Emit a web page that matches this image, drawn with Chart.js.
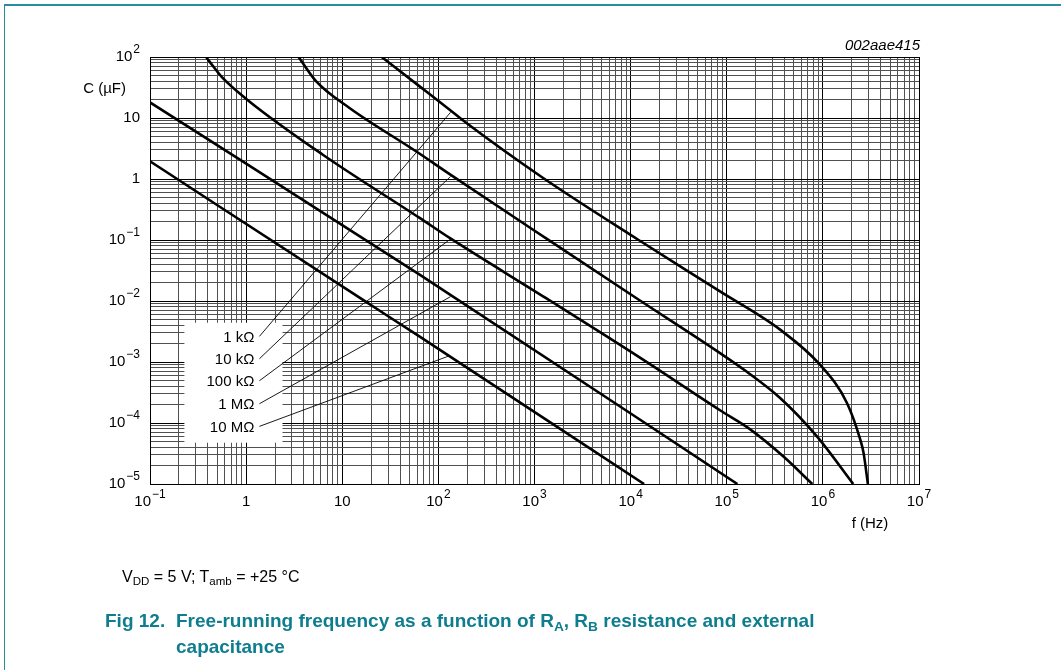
<!DOCTYPE html>
<html>
<head>
<meta charset="utf-8">
<script src="https://cdn.jsdelivr.net/npm/chart.js@4.4.1/dist/chart.umd.min.js"></script>
<style>
    body { margin: 0; background: #fff; font-family: "Liberation Sans", Arial, sans-serif; }
    #wrap { position: relative; width: 1061px; height: 670px; overflow: hidden; }
    #frame { position: absolute; left: 4px; top: 4px; right: -2px; bottom: -2px;
             border-top: 2px solid #2a8d9d; border-left: 1px solid #2a8d9d; }
    canvas { position: absolute; left: 0; top: 0; }
    .cond { position: absolute; left: 122px; top: 568px; font-size: 16px; color: #000; white-space: nowrap; }
    .fig { position: absolute; font-weight: bold; font-size: 19px; color: #0e7e8e; white-space: nowrap; }
    sub { font-size: 0.72em; vertical-align: -0.3em; line-height: 0; }
</style>
</head>
<body>
<div id="wrap">
    <div id="frame"></div>
    <canvas id="chart" width="1061" height="670"></canvas>
    <div class="cond">V<sub>DD</sub> = 5 V; T<sub>amb</sub> = +25 °C</div>
    <div class="fig" style="left:105px; top:610px;">Fig 12.</div>
    <div class="fig" style="left:176px; top:610px;">Free-running frequency as a function of R<sub>A</sub>, R<sub>B</sub> resistance and external</div>
    <div class="fig" style="left:176px; top:636px;">capacitance</div>
</div>
<script>
// ================================
// f (Hz) vs C (µF) for several R values
// ================================

const curveNames = ['1 kΩ', '10 kΩ', '100 kΩ', '1 MΩ', '10 MΩ'];

// [f (Hz), C (µF)]
const curve1k = [
    [25.7, 100], [63.8, 33.0], [131, 13.7], [196, 8.28], [1230, 1.04],
    [12000, 0.101], [85100, 0.01435], [359000, 0.00339], [933000, 0.000904],
    [1780000, 0.000213], [2450000, 0.0000532], [2650000, 0.0000324], [2940000, 0.00001]
];
const curve10k = [
    [3.51, 100], [5.36, 39.8], [11.9, 14.6], [59.0, 2.82], [131, 1.20],
    [1334, 0.105], [12500, 0.0102], [85100, 0.0014], [158000, 0.00071],
    [359000, 0.000257], [867000, 0.0000603], [2070000, 0.00001]
];
const curve100k = [
    [0.383, 100], [0.415, 84.7], [0.570, 45.3], [1.08, 18.7], [6.28, 2.50],
    [63.8, 0.230], [131, 0.108], [1334, 0.011], [12500, 0.00118],
    [85100, 0.000162], [174000, 0.0000794], [389000, 0.0000282], [776000, 0.00001]
];
const curve1M = [[0.1, 18.0], [63.8, 0.027], [129000, 0.00001]];
const curve10M = [[0.1, 1.95], [16.3, 0.0105], [64, 0.0026], [13800, 0.00001]];

// label leaders: from the label box to each curve
const leaderFrom = [[1.375, 0.00263], [1.375, 0.00113], [1.375, 0.000493], [1.375, 0.000207], [1.375, 0.000088]];
const leaderTo = [[134, 12.4], [134, 1.1], [134, 0.104], [134, 0.0118], [126, 0.00124]];
const labelF = 1.22;
const boxF = [0.228, 2.39];
const boxC = [0.0000475, 0.0044];

// axis ticks
const xTickValues = [0.1, 1, 10, 100, 1e3, 1e4, 1e5, 1e6, 1e7];
const xTickLabels = [['10', '−1'], ['1', ''], ['10', ''], ['10', '2'], ['10', '3'], ['10', '4'], ['10', '5'], ['10', '6'], ['10', '7']];
const yTickValues = [1e-5, 1e-4, 1e-3, 1e-2, 1e-1, 1, 10, 100];
const yTickLabels = [['10', '−5'], ['10', '−4'], ['10', '−3'], ['10', '−2'], ['10', '−1'], ['1', ''], ['10', ''], ['10', '2']];

const FONT = '"Liberation Sans", Arial, sans-serif';

// grid lines at 1..9 x 10^n
function gridValues(lo, hi) {
    const out = [];
    for (let e = lo; e < hi; e++) {
        for (let m = 1; m <= 9; m++) out.push(m * Math.pow(10, e));
    }
    out.push(Math.pow(10, hi));
    return out;
}

function isDecade(v) {
    const l = Math.log10(v);
    return Math.abs(l - Math.round(l)) < 1e-9;
}

const toXY = arr => arr.map(p => ({ x: p[0], y: p[1] }));

const curveSets = [curve1k, curve10k, curve100k, curve1M, curve10M].map((c, i) => ({
    label: curveNames[i],
    data: toXY(c),
    borderColor: '#000',
    borderWidth: 2.6,
    pointRadius: 0,
    cubicInterpolationMode: 'monotone',
    fill: false
}));

const leaderSets = leaderFrom.map((p, i) => ({
    label: 'leader ' + curveNames[i],
    data: toXY([p, leaderTo[i]]),
    borderColor: '#000',
    borderWidth: 0.9,
    pointRadius: 0,
    tension: 0,
    fill: false
}));

// draws "10" with a superscript
function drawPow(ctx, x, y, base, sup, align) {
    ctx.font = '15px ' + FONT;
    const w1 = ctx.measureText(base).width;
    ctx.font = '12px ' + FONT;
    const w2 = sup ? ctx.measureText(sup).width + 1 : 0;
    const total = w1 + w2;
    const left = align === 'right' ? x - total : x - total / 2;
    ctx.textAlign = 'left';
    ctx.textBaseline = 'middle';
    ctx.fillStyle = '#000';
    ctx.font = '15px ' + FONT;
    ctx.fillText(base, left, y);
    if (sup) {
        ctx.font = '12px ' + FONT;
        ctx.fillText(sup, left + w1 + 1, y - 7);
    }
}

const labelBoxPlugin = {
    id: 'labelBox',
    beforeDatasetsDraw(chart) {
        const { ctx, scales: { x, y } } = chart;
        const x0 = x.getPixelForValue(boxF[0]), x1 = x.getPixelForValue(boxF[1]);
        const y0 = y.getPixelForValue(boxC[1]), y1 = y.getPixelForValue(boxC[0]);
        ctx.save();
        ctx.fillStyle = '#fff';
        ctx.fillRect(x0, y0, x1 - x0, y1 - y0);
        ctx.font = '15px ' + FONT;
        ctx.fillStyle = '#000';
        ctx.textAlign = 'right';
        ctx.textBaseline = 'middle';
        leaderFrom.forEach((p, i) => {
            ctx.fillText(curveNames[i], x.getPixelForValue(labelF), y.getPixelForValue(p[1]) + 1);
        });
        ctx.restore();
    }
};

const axisTextPlugin = {
    id: 'axisText',
    afterDraw(chart) {
        const { ctx, chartArea, scales: { x, y } } = chart;
        ctx.save();
        xTickValues.forEach((v, i) => {
            drawPow(ctx, x.getPixelForValue(v), chartArea.bottom + 18, xTickLabels[i][0], xTickLabels[i][1], 'center');
        });
        yTickValues.forEach((v, i) => {
            drawPow(ctx, chartArea.left - 10, y.getPixelForValue(v), yTickLabels[i][0], yTickLabels[i][1], 'right');
        });
        ctx.font = '15px ' + FONT;
        ctx.textBaseline = 'middle';
        ctx.textAlign = 'right';
        ctx.fillText('C (µF)', chartArea.left - 24, chartArea.top + 32);
        ctx.textAlign = 'center';
        ctx.fillText('f (Hz)', 870, chartArea.bottom + 40);
        ctx.font = 'italic 15px ' + FONT;
        ctx.textAlign = 'right';
        ctx.fillText('002aae415', chartArea.right + 1, chartArea.top - 11);
        ctx.restore();
    }
};

function gridOpts() {
    return {
        color: c => (c.tick && isDecade(c.tick.value)) ? '#000' : '#505050',
        lineWidth: 1,
        drawTicks: false
    };
}

new Chart(document.getElementById('chart').getContext('2d'), {
    type: 'line',
    data: { datasets: curveSets.concat(leaderSets) },
    options: {
        responsive: false,
        animation: false,
        layout: { padding: { left: 150, top: 57, right: 142, bottom: 186 } },
        plugins: { legend: { display: false }, tooltip: { enabled: false } },
        scales: {
            x: {
                type: 'logarithmic',
                min: 0.1,
                max: 1e7,
                afterBuildTicks: s => { s.ticks = gridValues(-1, 7).map(v => ({ value: v })); },
                ticks: { display: false, autoSkip: false },
                grid: gridOpts(),
                border: { display: true, color: '#000', width: 1 }
            },
            y: {
                type: 'logarithmic',
                min: 1e-5,
                max: 100,
                afterBuildTicks: s => { s.ticks = gridValues(-5, 2).map(v => ({ value: v })); },
                ticks: { display: false, autoSkip: false },
                grid: gridOpts(),
                border: { display: true, color: '#000', width: 1 }
            }
        }
    },
    plugins: [labelBoxPlugin, axisTextPlugin]
});
</script>
</body>
</html>
